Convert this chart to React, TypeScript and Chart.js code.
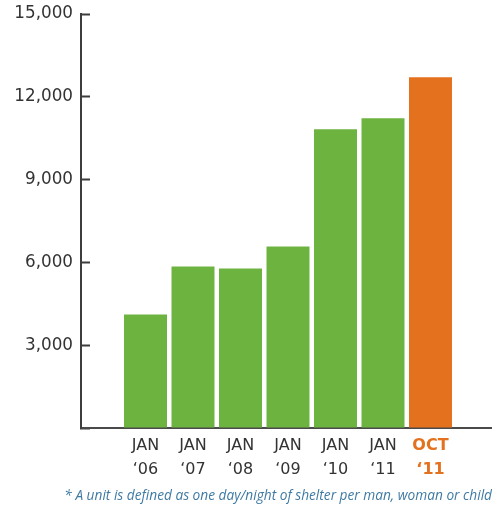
import React, { useEffect, useRef } from "react";
import { Chart, registerables } from "chart.js";

Chart.register(...registerables);

const MONTHS = ["JAN", "JAN", "JAN", "JAN", "JAN", "JAN", "OCT"];
const YEARS = ["‘06", "‘07", "‘08", "‘09", "‘10", "‘11", "‘11"];
const UNITS = [4110, 5850, 5780, 6580, 10820, 11220, 12710];
const HIGHLIGHT_INDEX = 6;
const Y_MAX = 15000;
const Y_STEP = 3000;
const FOOTNOTE = "* A unit is defined as one day/night of shelter per man, woman or child";

const GREEN = "#6db33f";
const ORANGE = "#e4711e";
const TEXT = "#333333";
const AXIS = "#3d3d3d";
const FONT = "'DejaVu Sans', sans-serif";

export default function App() {
  const ref = useRef<HTMLCanvasElement | null>(null);

  useEffect(() => {
    if (!ref.current) return;
    const chart = new Chart(ref.current, {
      type: "bar",
      data: {
        datasets: [
          {
            data: UNITS.map((v, i) => ({ x: i, y: v })),
            backgroundColor: (ctx: any) => (ctx.dataIndex === HIGHLIGHT_INDEX ? ORANGE : GREEN),
            borderWidth: 0,
            barPercentage: 0.905,
            categoryPercentage: 1,
          },
        ],
      },
      options: {
        animation: false,
        responsive: false,
        maintainAspectRatio: false,
        layout: { autoPadding: false, padding: { top: 14, left: 0, right: 0, bottom: 0 } },
        plugins: { legend: { display: false }, tooltip: { enabled: false } },
        scales: {
          x: {
            type: "linear",
            offset: false,
            min: -1.358,
            max: 7.295,
            grid: { display: false },
            border: { display: true, color: "#4a4a4a", width: 2 },
            afterBuildTicks: (scale: any) => {
              scale.ticks = MONTHS.map((_, i) => ({ value: i }));
            },
            afterFit: (scale: any) => {
              scale.height = 62;
              scale.paddingLeft = 0;
              scale.paddingRight = 0;
            },
            ticks: {
              autoSkip: false,
              maxRotation: 0,
              padding: -2,
              callback: (value: any) => [MONTHS[value], YEARS[value]],
              color: (ctx: any) => (ctx.index === HIGHLIGHT_INDEX ? ORANGE : TEXT),
              font: (ctx: any) => ({
                family: FONT,
                size: 16,
                lineHeight: 1.5,
                weight: ctx.index === HIGHLIGHT_INDEX ? "bold" : "normal",
              }),
            },
          },
          y: {
            min: 0,
            max: Y_MAX,
            grid: {
              drawOnChartArea: false,
              drawTicks: true,
              tickLength: -9,
              tickWidth: 2,
              color: AXIS,
            },
            border: { display: true, color: AXIS, width: 2 },
            afterFit: (scale: any) => {
              scale.width = 81;
              scale.paddingTop = 0;
              scale.paddingBottom = 0;
            },
            ticks: {
              stepSize: Y_STEP,
              padding: 17,
              color: TEXT,
              font: { family: FONT, size: 16.8 },
              callback: (value: any) => (value === 0 ? "" : Number(value).toLocaleString("en-US")),
            },
          },
        },
      },
    });
    return () => chart.destroy();
  }, []);

  return (
    <div style={{ position: "fixed", left: 0, top: 0, width: 492, height: 514, background: "#fff" }}>
      <canvas ref={ref} width={492} height={490} style={{ display: "block", width: 492, height: 490 }} />
      <div
        style={{
          position: "absolute",
          right: 0,
          top: 485,
          whiteSpace: "nowrap",
          fontFamily: "'Open Sans', sans-serif",
          fontStyle: "italic",
          fontSize: 13.7,
          color: "#3f7aa3",
        }}
      >
        {FOOTNOTE}
      </div>
    </div>
  );
}
